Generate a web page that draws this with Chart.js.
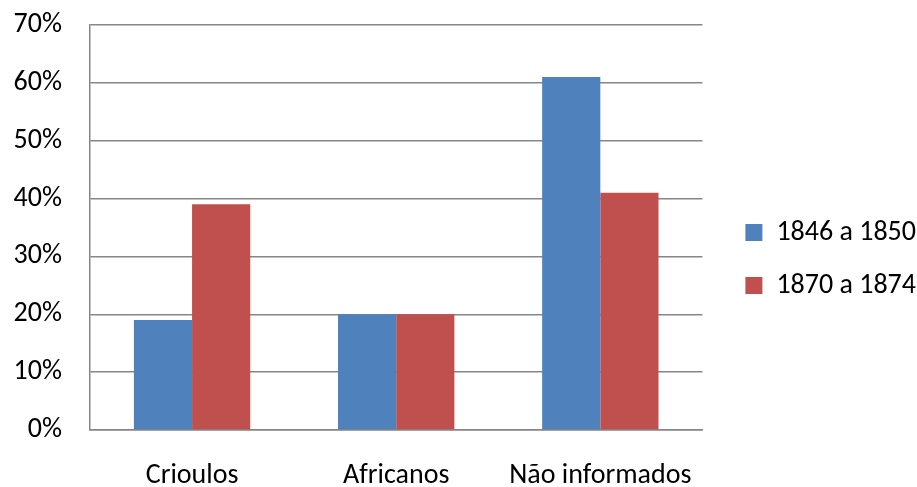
<!DOCTYPE html>
<html>
<head>
<meta charset="utf-8">
<script src="https://cdn.jsdelivr.net/npm/chart.js@4/dist/chart.umd.min.js"></script>
<style>
  html, body { margin: 0; padding: 0; background: #fff; }
  #wrap { width: 917px; height: 487px; }
</style>
</head>
<body>
<div id="wrap"><canvas id="chart" width="917" height="487"></canvas></div>
<script>
// data
const categories = ['Crioulos', 'Africanos', 'Não informados'];
const series1846 = [19, 20, 61];
const series1870 = [39, 20, 41];
const seriesLabels = ['1846 a 1850', '1870 a 1874'];

const gridGrey = '#868686';
const font = "Carlito, Calibri, 'Open Sans', sans-serif";
const fontSize = 28;

// widen the legend box a little and push its items right,
// so there is a bigger gap between plot and legend (like Excel)
const legendGap = {
    id: 'legendGap',
    beforeLayout(chart) {
        const lg = chart.legend;
        if (lg && !lg._patched) {
            const fit = lg.fit;
            lg.fit = function () {
                fit.call(this);
                this.width += 9;
            };
            lg._patched = true;
        }
    },
    afterLayout(chart) {
        const lg = chart.legend;
        if (lg) {
            lg.left += 18;
            lg.right += 18;
        }
    }
};

const ctx = document.getElementById('chart').getContext('2d');
const chart = new Chart(ctx, {
    type: 'bar',
    data: {
        labels: categories,
        datasets: [
            {
                label: seriesLabels[0],
                data: series1846,
                backgroundColor: '#4F81BD',
                barPercentage: 1,
                categoryPercentage: 0.57
            },
            {
                label: seriesLabels[1],
                data: series1870,
                backgroundColor: '#C0504D',
                barPercentage: 1,
                categoryPercentage: 0.57
            }
        ]
    },
    plugins: [legendGap],
    options: {
        responsive: false,
        animation: false,
        layout: {
            padding: { top: 25, right: 0, left: 12, bottom: 0 }
        },
        plugins: {
            tooltip: { enabled: false },
            legend: {
                display: true,
                position: 'right',
                // tiny empty title, nudges the items down a few px
                title: {
                    display: true,
                    text: ' ',
                    font: { size: 5 },
                    padding: 0
                },
                labels: {
                    font: { family: font, size: fontSize },
                    color: '#000',
                    boxWidth: 17,
                    boxHeight: 17,
                    padding: 25
                }
            }
        },
        scales: {
            x: {
                grid: { display: false, drawTicks: false },
                border: { display: true, color: gridGrey, width: 1.5 },
                ticks: {
                    font: { family: font, size: fontSize },
                    color: '#000',
                    padding: 29
                },
                afterFit: function (scale) {
                    scale.height = 57;
                }
            },
            y: {
                min: 0,
                max: 70,
                grid: { color: gridGrey, lineWidth: 1.5, drawTicks: false },
                border: { display: true, color: gridGrey, width: 1.5 },
                ticks: {
                    stepSize: 10,
                    font: { family: font, size: fontSize },
                    color: '#000',
                    padding: 28,
                    callback: function (val) {
                        return val + '%';
                    }
                },
                afterFit: function (scale) {
                    scale.width = 78;
                    scale.paddingTop = 0;
                    scale.paddingBottom = 0;
                }
            }
        }
    }
});
</script>
</body>
</html>
